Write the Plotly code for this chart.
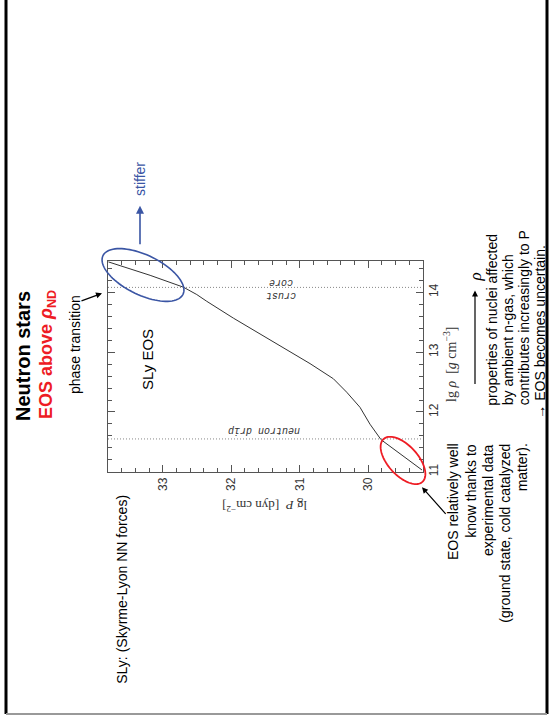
import numpy as np
import plotly.graph_objects as go

# ---------------- data ----------------
lg_P = [29.215, 29.813, 29.974, 30.120, 30.314, 30.509, 30.850, 31.142,
        31.482, 31.969, 32.358, 32.504, 32.699, 33.185, 33.794]
lg_rho = [11.032, 11.538, 11.796, 12.078, 12.330, 12.555, 12.808, 13.005,
          13.229, 13.567, 13.848, 13.961, 14.084, 14.282, 14.506]
transition_rho = [11.55, 14.08]          # neutron drip, crust/core
P_ticks = [30, 31, 32, 33]
rho_ticks = [11, 12, 13, 14]
left_note_lines = ["EOS relatively well", "know thanks to", "experimental data",
                   "(ground state, cold catalyzed", "matter)."]
right_note_lines = ["properties of nuclei affected", "by ambient n-gas, which",
                    "contributes increasingly to P", "\u2192 EOS becomes uncertain."]

W, H = 550, 726
def px(x): return x / W
def py(y): return 1 - y / H

SANS = "Liberation Sans, Arial, sans-serif"
SERIF = "Liberation Serif, Times New Roman, serif"
MONO = "Liberation Mono, Courier New, monospace"
RED = "#ee1c24"
BLUE = "#3a55a4"
AX = "#555555"

fig = go.Figure()
fig.add_trace(go.Scatter(x=lg_P, y=lg_rho, mode="lines",
                         line=dict(color="#333333", width=1), hoverinfo="skip",
                         showlegend=False))

x0p, x1p, y0p, y1p = 108, 423, 262.5, 474.5
axis_common = dict(showline=True, linecolor=AX, linewidth=1, mirror="allticks",
                   ticks="inside", ticklen=7, tickcolor=AX, tickwidth=1,
                   showgrid=False, zeroline=False, tickangle=-90,
                   tickfont=dict(family=SANS, size=12, color="#333333"),
                   minor=dict(dtick=0.2, ticks="inside", ticklen=4,
                              tickcolor=AX, tickwidth=1, showgrid=False))
fig.update_layout(
    xaxis=dict(domain=[px(x0p), px(x1p)], range=[33.8, 29.2],
               tickvals=P_ticks, **axis_common),
    yaxis=dict(domain=[py(y1p), py(y0p)], range=[11.0, 14.52], side="right",
               tickvals=rho_ticks, **axis_common),
)

shapes = []
# transition lines
for r in transition_rho:
    shapes.append(dict(type="line", xref="x domain", yref="y", x0=0, x1=1,
                       y0=r, y1=r, line=dict(color="#888888", width=1, dash="1px,2px")))

def ellipse(cx, cy, a, b, th, color, width=1.6, n=90):
    t = np.linspace(0, 2 * np.pi, n)
    c, s = np.cos(np.radians(th)), np.sin(np.radians(th))
    xs = cx + a * np.cos(t) * c - b * np.sin(t) * s
    ys = cy + a * np.cos(t) * s + b * np.sin(t) * c
    path = "M " + " L ".join(f"{px(x):.5f},{py(y):.5f}" for x, y in zip(xs, ys)) + " Z"
    return dict(type="path", xref="paper", yref="paper", path=path,
                line=dict(color=color, width=width))

shapes.append(ellipse(143, 276.5, 44.5, 20, 26, BLUE))
shapes.append(ellipse(403, 463, 29, 15, 48, RED, width=1.8))

# slide border
shapes.append(dict(type="line", xref="paper", yref="paper", x0=px(6), x1=px(6),
                   y0=py(0), y1=py(718), line=dict(color="black", width=3)))
shapes.append(dict(type="line", xref="paper", yref="paper", x0=px(547), x1=px(547),
                   y0=py(0), y1=py(718), line=dict(color="black", width=3)))
shapes.append(dict(type="line", xref="paper", yref="paper", x0=px(6), x1=px(547),
                   y0=py(718), y1=py(718), line=dict(color="#999999", width=2)))

ann = []
def text(x, y, s, size, color="black", family=SANS, angle=-90, xa="center", ya="middle"):
    ann.append(dict(xref="paper", yref="paper", x=px(x), y=py(y), text=s,
                    showarrow=False, textangle=angle, xanchor=xa, yanchor=ya,
                    font=dict(family=family, size=size, color=color)))

def arrow(hx, hy, tx, ty, color="black", width=1.2, size=1.0):
    ann.append(dict(xref="paper", yref="paper", x=px(hx), y=py(hy), text="",
                    showarrow=True, arrowhead=2, arrowsize=size, arrowwidth=width,
                    arrowcolor=color, ax=tx - hx, ay=ty - hy, standoff=0))

text(23, 358, "<b>Neutron stars</b>", 20)
text(47, 357, "<b>EOS above <i>\u03c1</i><sub>ND</sub></b>", 18, color=RED)
text(75, 347, "phase transition", 14)
arrow(102, 295, 80, 303)
text(140, 180, "stiffer", 14, color=BLUE)
arrow(140, 207, 140, 247, color=BLUE, width=1.6)
text(147, 362, "SLy EOS", 15)
text(122, 593, "SLy: (Skyrme-Lyon NN forces)", 14)

# in-plot labels (upside down in the slide)
text(264, 433, "<i>neutron drip</i>", 10, color="#333333", family=MONO, angle=180)
text(281, 297, "<i>crust</i>", 10, color="#333333", family=MONO, angle=180)
text(281, 284, "<i>core</i>", 10, color="#333333", family=MONO, angle=180)

# axis titles
text(265, 509, "lg <i>P</i>  [dyn cm<sup>\u22122</sup>]", 13, color="#333333",
     family=SERIF, angle=180)
text(450, 366, "lg <i>\u03c1</i>  [<i>g</i> cm<sup>\u22123</sup>]", 14, color="#333333",
     family=SERIF)

# notes
for i, line in enumerate(left_note_lines):
    text(453 + 17.2 * i, 444, line, 14, ya="top")
arrow(422, 490, 447, 518)

starts = [410, 410, 410, 423]
for i, line in enumerate(right_note_lines):
    text(492 + 16 * i, starts[i], line, 14, ya="bottom")
arrow(475, 292, 475, 387, width=1.2)
text(475, 279, "<i>\u03c1</i>", 17, family=SERIF)

fig.update_layout(width=W, height=H, autosize=False,
                  margin=dict(l=0, r=0, t=0, b=0),
                  paper_bgcolor="white", plot_bgcolor="white",
                  shapes=shapes, annotations=ann, showlegend=False,
                  hovermode=False)

fig.write_html("out.html",
               config={"displayModeBar": False, "staticPlot": True},
               post_script="document.body.style.margin='0';"
                           "document.body.style.padding='0';"
                           "document.body.style.overflow='hidden';")
